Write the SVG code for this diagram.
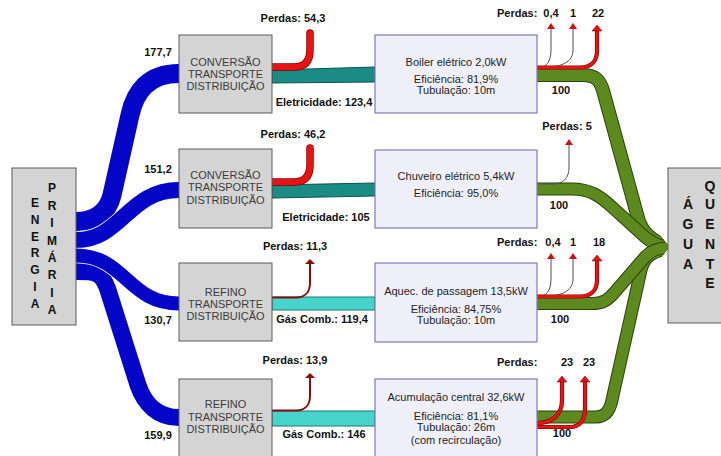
<svg xmlns="http://www.w3.org/2000/svg" width="721" height="456" viewBox="0 0 721 456">
<style>
.box{fill:#d4d4d4;stroke:#5a5a5a;stroke-width:1}
.dev{fill:#efeff9;stroke:#7b7bb8;stroke-width:1.2}
.bt{font-family:"Liberation Sans",Arial,sans-serif;font-size:11px;fill:#3c3c3c;text-anchor:middle}
.dt{font-family:"Liberation Sans",Arial,sans-serif;font-size:11px;fill:#1e1e1e;text-anchor:middle}
.lb{font-family:"Liberation Sans",Arial,sans-serif;font-size:11px;font-weight:bold;fill:#111}
.mid{text-anchor:middle}
.bigl{font-family:"Liberation Sans",Arial,sans-serif;font-size:12px;font-weight:bold;fill:#111;text-anchor:middle}
.bigr{font-family:"Liberation Sans",Arial,sans-serif;font-size:14px;font-weight:bold;fill:#111;text-anchor:middle}
.bw{fill:none;stroke:#ffffff}
.bl{fill:none;stroke:#0505c8}
.go{fill:none;stroke:#2b430b}
.gf{fill:none;stroke:#5d8a1f}
.teal{fill:#1b8c84;stroke:#0c534e;stroke-width:1}
.gas{fill:#45d3cb;stroke:#177a74;stroke-width:1}
.ro{fill:none;stroke:#7a0000}
.rf{fill:none;stroke:#e81212}
.thin{fill:none;stroke:#505050;stroke-width:1}
.dr{fill:none;stroke:#8b0a0a;stroke-width:2}
</style>
<defs>
<marker id="ahs" markerUnits="userSpaceOnUse" markerWidth="7" markerHeight="8" refX="0" refY="4" orient="auto" overflow="visible"><path d="M0,0 L6,4 L0,8 z" fill="#d01010"/></marker>
<marker id="ahl" markerUnits="userSpaceOnUse" markerWidth="7" markerHeight="10" refX="0" refY="5" orient="auto" overflow="visible"><path d="M0,0 L6,5 L0,10 z" fill="#e01010" stroke="#7a0000" stroke-width="0.5"/></marker>
<marker id="ahd" markerUnits="userSpaceOnUse" markerWidth="6" markerHeight="10" refX="0" refY="5" orient="auto" overflow="visible"><path d="M0,0 L5,5 L0,10 z" fill="#8b0a0a"/></marker>
<clipPath id="wedge"><polygon points="0,0 655,0 655,228 669,247 655,266 655,456 0,456"/></clipPath>
</defs>

<g id="connectors">
  <!-- blue primary energy flows -->
  <path class="bw" stroke-width="20.5" d="M76,221.5 C96,221.5 108,212 112,195 L130,115 C135,92 148,73.5 179,73.5"/>
  <path class="bl" stroke-width="19" d="M76,221.5 C96,221.5 108,212 112,195 L130,115 C135,92 148,73.5 179,73.5"/>
  <path class="bw" stroke-width="17.5" d="M76,240 C122,240 128,190 179,190"/>
  <path class="bl" stroke-width="16" d="M76,240 C122,240 128,190 179,190"/>
  <path class="bw" stroke-width="18.5" d="M76,271.5 C95,271.5 101.6,271 108,290 L138,385 C144.4,404 158,417.5 179,417.5"/>
  <path class="bl" stroke-width="17" d="M76,271.5 C95,271.5 101.6,271 108,290 L138,385 C144.4,404 158,417.5 179,417.5"/>
  <path class="bw" stroke-width="15.5" d="M76,255.5 C125,255.5 128,303.5 179,303.5"/>
  <path class="bl" stroke-width="14" d="M76,255.5 C125,255.5 128,303.5 179,303.5"/>

  <!-- final energy flows -->
  <polygon class="teal" points="272,70 375,67 375,82 272,83"/>
  <polygon class="teal" points="272,185 375,183 375,196 272,198"/>
  <polygon class="gas" points="272,297 375,297 375,310 272,310"/>
  <polygon class="gas" points="272,411 375,411 375,426 272,426"/>

  <!-- losses at conversion -->
  <path class="ro" stroke-width="7.5" stroke-linecap="round" d="M272,67 L294,67 C305,67 310,61 310,50 L310,33"/>
  <path class="rf" stroke-width="6" stroke-linecap="round" d="M272,67 L294,67 C305,67 310,61 310,50 L310,33"/>
  <path class="ro" stroke-width="7.5" stroke-linecap="round" d="M272,182 L294,182 C305,182 310,176 310,165 L310,148"/>
  <path class="rf" stroke-width="6" stroke-linecap="round" d="M272,182 L294,182 C305,182 310,176 310,165 L310,148"/>
  <path class="dr" marker-end="url(#ahd)" d="M272,297.5 L296,297.5 C305,297.5 310,292 310,283 L310,264"/>
  <path class="dr" marker-end="url(#ahd)" d="M272,410.5 L296,410.5 C305,410.5 310,405 310,396 L310,378"/>

  <!-- useful hot water flows -->
  <g clip-path="url(#wedge)">
    <path class="go" stroke-width="14" d="M537,75 L583,75 C597,75 601,82 604,94 L638,218 C641,230 650,241 668,246"/>
    <path class="gf" stroke-width="12" d="M537,75 L583,75 C597,75 601,82 604,94 L638,218 C641,230 650,241 668,246"/>
    <path class="go" stroke-width="13" d="M537,189 L572,189 C590,189 600,196 612,207 L645,237 C652,243 658,246 668,247"/>
    <path class="gf" stroke-width="11" d="M537,189 L572,189 C590,189 600,196 612,207 L645,237 C652,243 658,246 668,247"/>
    <path class="go" stroke-width="13" d="M537,417 L596,417 C606,417 610,410 612,400 L641,270 C644,258 652,251 668,249"/>
    <path class="gf" stroke-width="11" d="M537,417 L596,417 C606,417 610,410 612,400 L641,270 C644,258 652,251 668,249"/>
    <path class="go" stroke-width="13" d="M537,303.5 L592,303.5 C603,303.5 608,300 614,293 L646,256 C652,250 658,248 668,248"/>
    <path class="gf" stroke-width="11" d="M537,303.5 L592,303.5 C603,303.5 608,300 614,293 L646,256 C652,250 658,248 668,248"/>
  </g>

  <!-- losses at devices -->
  <path class="thin" marker-end="url(#ahs)" d="M537,68 C546,68 551,62 551,50 L551,29"/>
  <path class="thin" marker-end="url(#ahs)" d="M537,68 C562,68 573,62 573,50 L573,29"/>
  <path class="ro" stroke-width="4.2" d="M537,67.5 L580,67.5 C591,67.5 597,61 597,51 L597,31"/>
  <path class="rf" stroke-width="3" marker-end="url(#ahl)" d="M537,67.5 L580,67.5 C591,67.5 597,61 597,51 L597,31"/>

  <path class="thin" marker-end="url(#ahs)" d="M537,184 L553,184 C563,184 569,178 569,168 L569,145"/>

  <path class="thin" marker-end="url(#ahs)" d="M537,297 C546,297 551,291 551,279 L551,259"/>
  <path class="thin" marker-end="url(#ahs)" d="M537,297 C562,297 573,291 573,279 L573,259"/>
  <path class="ro" stroke-width="4.2" d="M537,296.5 L580,296.5 C591,296.5 597,290 597,280 L597,261"/>
  <path class="rf" stroke-width="3" marker-end="url(#ahl)" d="M537,296.5 L580,296.5 C591,296.5 597,290 597,280 L597,261"/>

  <path class="ro" stroke-width="4.2" d="M537,427 L570,427 C580,427 585,420 585,408 L585,382"/>
  <path class="rf" stroke-width="3" marker-end="url(#ahl)" d="M537,427 L570,427 C580,427 585,420 585,408 L585,382"/>
  <path class="ro" stroke-width="4.2" d="M537,423 C552,423 562,415 562,400 L562,382"/>
  <path class="rf" stroke-width="3" marker-end="url(#ahl)" d="M537,423 C552,423 562,415 562,400 L562,382"/>

  <!-- flow labels -->
  <text class="lb mid" x="158" y="56">177,7</text>
  <text class="lb mid" x="158" y="173">151,2</text>
  <text class="lb mid" x="158" y="324">130,7</text>
  <text class="lb mid" x="158" y="439">159,9</text>

  <text class="lb mid" x="293" y="22">Perdas: 54,3</text>
  <text class="lb mid" x="293" y="138">Perdas: 46,2</text>
  <text class="lb mid" x="295" y="250">Perdas: 11,3</text>
  <text class="lb mid" x="295" y="364">Perdas: 13,9</text>

  <text class="lb mid" x="324" y="106">Eletricidade: 123,4</text>
  <text class="lb mid" x="326" y="221">Eletricidade: 105</text>
  <text class="lb mid" x="322" y="323">Gás Comb.: 119,4</text>
  <text class="lb mid" x="324" y="438">Gás Comb.: 146</text>

  <text class="lb" x="497" y="17">Perdas:</text>
  <text class="lb mid" x="551" y="17">0,4</text>
  <text class="lb mid" x="573" y="17">1</text>
  <text class="lb mid" x="598" y="17">22</text>
  <text class="lb mid" x="567" y="130">Perdas: 5</text>
  <text class="lb" x="497" y="246">Perdas:</text>
  <text class="lb mid" x="553" y="246">0,4</text>
  <text class="lb mid" x="573" y="246">1</text>
  <text class="lb mid" x="599" y="246">18</text>
  <text class="lb" x="497" y="366">Perdas:</text>
  <text class="lb mid" x="567" y="366">23</text>
  <text class="lb mid" x="589" y="366">23</text>

  <text class="lb mid" x="561" y="94">100</text>
  <text class="lb mid" x="559" y="209">100</text>
  <text class="lb mid" x="560" y="323">100</text>
  <text class="lb mid" x="562" y="437">100</text>
</g>

<g id="energia">
  <rect class="box" x="12" y="168" width="64" height="157"/>
  <text class="bigl">
    <tspan x="35" y="207">E</tspan><tspan x="35" y="224">N</tspan><tspan x="35" y="241">E</tspan><tspan x="35" y="257">R</tspan><tspan x="35" y="274">G</tspan><tspan x="35" y="291">I</tspan><tspan x="35" y="308">A</tspan>
  </text>
  <text class="bigl">
    <tspan x="52" y="192">P</tspan><tspan x="52" y="210">R</tspan><tspan x="52" y="227">I</tspan><tspan x="52" y="245">M</tspan><tspan x="52" y="262">Á</tspan><tspan x="52" y="279">R</tspan><tspan x="52" y="297">I</tspan><tspan x="52" y="314">A</tspan>
  </text>
</g>

<g id="conv1">
  <rect class="box" x="179" y="35" width="93" height="78"/>
  <text class="bt"><tspan x="225.5" y="66">CONVERSÃO</tspan><tspan x="225.5" y="78">TRANSPORTE</tspan><tspan x="225.5" y="90">DISTRIBUIÇÃO</tspan></text>
</g>
<g id="conv2">
  <rect class="box" x="179" y="149" width="93" height="79"/>
  <text class="bt"><tspan x="225.5" y="179">CONVERSÃO</tspan><tspan x="225.5" y="191">TRANSPORTE</tspan><tspan x="225.5" y="204">DISTRIBUIÇÃO</tspan></text>
</g>
<g id="ref1">
  <rect class="box" x="179" y="263" width="93" height="78"/>
  <text class="bt"><tspan x="225.5" y="296">REFINO</tspan><tspan x="225.5" y="308">TRANSPORTE</tspan><tspan x="225.5" y="320">DISTRIBUIÇÃO</tspan></text>
</g>
<g id="ref2">
  <rect class="box" x="179" y="379" width="93" height="78"/>
  <text class="bt"><tspan x="225.5" y="408">REFINO</tspan><tspan x="225.5" y="421">TRANSPORTE</tspan><tspan x="225.5" y="433">DISTRIBUIÇÃO</tspan></text>
</g>

<g id="boiler">
  <rect class="dev" x="375" y="35" width="162" height="78"/>
  <text class="dt"><tspan x="456" y="66">Boiler elétrico 2,0kW</tspan><tspan x="456" y="83">Eficiência: 81,9%</tspan><tspan x="456" y="94">Tubulação: 10m</tspan></text>
</g>
<g id="chuveiro">
  <rect class="dev" x="375" y="150" width="162" height="78"/>
  <text class="dt"><tspan x="456" y="180">Chuveiro elétrico 5,4kW</tspan><tspan x="456" y="197">Eficiência: 95,0%</tspan></text>
</g>
<g id="aquec">
  <rect class="dev" x="375" y="263" width="162" height="79"/>
  <text class="dt"><tspan x="456" y="295">Aquec. de passagem 13,5kW</tspan><tspan x="456" y="313">Eficiência: 84,75%</tspan><tspan x="456" y="324">Tubulação: 10m</tspan></text>
</g>
<g id="acum">
  <rect class="dev" x="375" y="379" width="162" height="78"/>
  <text class="dt"><tspan x="456" y="401">Acumulação central 32,6kW</tspan><tspan x="456" y="420">Eficiência: 81,1%</tspan><tspan x="456" y="431">Tubulação: 26m</tspan><tspan x="456" y="444">(com recirculação)</tspan></text>
</g>

<g id="agua">
  <rect class="box" x="668" y="168" width="60" height="155"/>
  <text class="bigr"><tspan x="688" y="209">Á</tspan><tspan x="688" y="229">G</tspan><tspan x="688" y="249">U</tspan><tspan x="688" y="269">A</tspan></text>
  <text class="bigr"><tspan x="710" y="191">Q</tspan><tspan x="710" y="209">U</tspan><tspan x="710" y="229">E</tspan><tspan x="710" y="249">N</tspan><tspan x="710" y="269">T</tspan><tspan x="710" y="288">E</tspan></text>
</g>
</svg>
